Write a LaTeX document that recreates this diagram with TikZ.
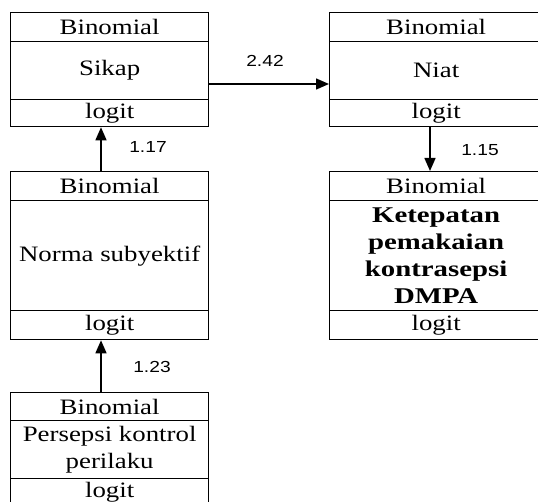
\documentclass[tikz,border=0pt]{standalone}
\usepackage{fontspec}
\setmainfont{Liberation Serif}[FakeStretch=1.22]
\newfontfamily\lblfont{Liberation Sans}[FakeStretch=1.2]
\newfontfamily\boldserif{Liberation Serif}[FakeStretch=1.28]
\usetikzlibrary{arrows.meta}
\begin{document}
\begin{tikzpicture}[x=1pt,y=-1pt,
  row/.style={draw=black,line width=1.3pt,rectangle,anchor=north west,inner sep=0pt,
    font=\fontsize{22}{27}\selectfont,align=center},
  lbl/.style={font=\lblfont\fontsize{16}{18}\selectfont,anchor=base,inner sep=0pt},
  conn/.style={line width=1.5pt,-{Triangle[length=13pt,width=11pt]}}]
\useasboundingbox (0,0) rectangle (538,502);
\clip (0,0) rectangle (538,502);
% Sikap
\node[row,minimum width=198pt,minimum height=29pt] (s1) at (10,12) {Binomial};
\node[row,minimum width=198pt,minimum height=58pt] (s2) at (10,41) {Sikap};
\node[row,minimum width=198pt,minimum height=27pt] (s3) at (10,99) {logit};
% Niat
\node[row,minimum width=213pt,minimum height=29pt] (n1) at (329,12) {Binomial};
\node[row,minimum width=213pt,minimum height=58pt] (n2) at (329,41) {Niat};
\node[row,minimum width=213pt,minimum height=27pt] (n3) at (329,99) {logit};
% Norma subyektif
\node[row,minimum width=198pt,minimum height=29pt] (m1) at (10,171) {Binomial};
\node[row,minimum width=198pt,minimum height=110pt] (m2) at (10,200) {Norma subyektif};
\node[row,minimum width=198pt,minimum height=29pt] (m3) at (10,310) {logit};
% Ketepatan
\node[row,minimum width=213pt,minimum height=29pt] (k1) at (329,171) {Binomial};
\node[row,minimum width=213pt,minimum height=110pt,font=\boldserif\fontsize{22.5}{27.3}\selectfont\bfseries] (k2) at (329,200) {Ketepatan\\pemakaian\\kontrasepsi\\DMPA};
\node[row,minimum width=213pt,minimum height=29pt] (k3) at (329,310) {logit};
% Persepsi
\node[row,minimum width=198pt,minimum height=28pt] (p1) at (10,392) {Binomial};
\node[row,minimum width=198pt,minimum height=58pt,font=\fontsize{22}{26.5}\selectfont] (p2) at (10,420) {Persepsi kontrol\\perilaku};
\node[row,minimum width=198pt,minimum height=28pt] (p3) at (10,478) {logit};
% connectors
\draw[conn] (s2.east |- 0,84) -- (n2.west |- 0,84);
\draw[conn] (m1.north -| 101,0) -- (s3.south -| 101,0);
\draw[conn] (n3.south -| 430,0) -- (k1.north -| 430,0);
\draw[conn] (p1.north -| 101,0) -- (m3.south -| 101,0);
% labels
\node[lbl] (l1) at (265,67) {2.42};
\node[lbl] (l2) at (148,153) {1.17};
\node[lbl] (l3) at (480,156) {1.15};
\node[lbl] (l4) at (152,373) {1.23};
\end{tikzpicture}
\end{document}
